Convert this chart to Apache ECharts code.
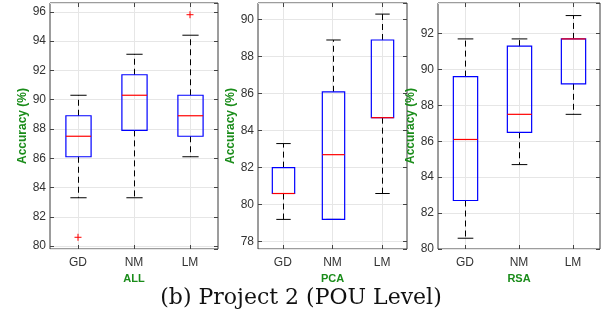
<!DOCTYPE html>
<html>
<head>
<meta charset="utf-8">
<script src="https://cdn.jsdelivr.net/npm/echarts@6/dist/echarts.min.js"></script>
<style>
  html, body { margin: 0; padding: 0; background: #fff; }
  #chart { width: 602px; height: 321px; }
</style>
</head>
<body>
<div id="chart"></div>
<script>
const categories = ["GD", "NM", "LM"];
const groupNames = ["ALL", "PCA", "RSA"];
// each box: [lower whisker, q1, median, q3, upper whisker]
const allBoxes = [
  [83.3, 86.1, 87.5, 88.9, 90.3],
  [83.3, 87.9, 90.3, 91.7, 93.1],
  [86.1, 87.5, 88.9, 90.3, 94.4],
];
const allOutliers = [[0, 80.6], [2, 95.8]];
const pcaBoxes = [
  [79.2, 80.6, 80.6, 82.0, 83.3],
  [79.2, 79.2, 82.7, 86.1, 88.9],
  [80.6, 84.7, 84.7, 88.9, 90.3],
];
const pcaOutliers = [];
const rsaBoxes = [
  [80.6, 82.7, 86.1, 89.6, 91.7],
  [84.7, 86.5, 87.5, 91.3, 91.7],
  [87.5, 89.2, 91.7, 91.7, 93.0],
];
const rsaOutliers = [];
const yMin = [79.8, 77.6, 80];
const yMax = [96.6, 90.9, 93.7];
const yStep = 2;

const grids = [
  { left: 50, top: 3, width: 168, height: 246 },
  { left: 258, top: 3, width: 149, height: 246 },
  { left: 438, top: 3, width: 162, height: 246 },
];
const nameGaps = [19, 20, 17];

const green = "#1a8c1a";
const labelColor = "#333";
const gridColor = "#e6e6e6";

function renderBox(params, api) {
  const idx = api.value(0);
  const band = api.size([1, 0])[0];
  const bw = band * 0.45;
  const cw = band * 0.29;
  const lo = api.coord([idx, api.value(1)]);
  const q1 = api.coord([idx, api.value(2)]);
  const md = api.coord([idx, api.value(3)]);
  const q3 = api.coord([idx, api.value(4)]);
  const hi = api.coord([idx, api.value(5)]);
  const x = Math.round(lo[0]) + 0.5;
  const dashed = { stroke: "#000", lineWidth: 1, lineDash: [6, 4] };
  const solid = { stroke: "#000", lineWidth: 1 };
  return {
    type: "group",
    children: [
      { type: "line", shape: { x1: x, y1: q3[1], x2: x, y2: hi[1] }, style: dashed },
      { type: "line", shape: { x1: x, y1: q1[1], x2: x, y2: lo[1] }, style: dashed },
      { type: "line", shape: { x1: x - cw / 2, y1: hi[1], x2: x + cw / 2, y2: hi[1] }, style: solid },
      { type: "line", shape: { x1: x - cw / 2, y1: lo[1], x2: x + cw / 2, y2: lo[1] }, style: solid },
      {
        type: "rect",
        shape: { x: x - bw / 2, y: q3[1], width: bw, height: q1[1] - q3[1] },
        style: { fill: "none", stroke: "#0000ff", lineWidth: 1.2 },
      },
      {
        type: "line",
        shape: { x1: x - bw / 2, y1: md[1], x2: x + bw / 2, y2: md[1] },
        style: { stroke: "#ff0000", lineWidth: 1.2 },
      },
    ],
  };
}

function renderPlus(params, api) {
  const c = api.coord([api.value(0), api.value(1)]);
  const s = 3.5;
  const st = { stroke: "#ff0000", lineWidth: 1 };
  return {
    type: "group",
    children: [
      { type: "line", shape: { x1: c[0] - s, y1: c[1], x2: c[0] + s, y2: c[1] }, style: st },
      { type: "line", shape: { x1: c[0], y1: c[1] - s, x2: c[0], y2: c[1] + s }, style: st },
    ],
  };
}

const boxSets = [allBoxes, pcaBoxes, rsaBoxes];
const outlierSets = [allOutliers, pcaOutliers, rsaOutliers];

const option = {
  backgroundColor: "#fff",
  animation: false,
  textStyle: { fontFamily: "Liberation Sans, Arial, sans-serif" },
  grid: grids.map((g) => ({
    ...g,
    show: true,
    borderColor: "#3a3a3a",
    borderWidth: 1,
    backgroundColor: "transparent",
  })),
  xAxis: [],
  yAxis: [],
  series: [],
  graphic: [
    {
      type: "text",
      left: "center",
      top: 287,
      style: {
        text: "(b) Project 2 (POU Level)",
        font: "22px 'DejaVu Serif', serif",
        fill: "#111",
      },
    },
  ],
};

grids.forEach((g, i) => {
  // bottom category axis
  option.xAxis.push({
    type: "category",
    gridIndex: i,
    data: categories,
    position: "bottom",
    axisLine: { show: false },
    axisTick: { show: true, inside: true, alignWithLabel: true, length: 4, lineStyle: { color: "#444" } },
    axisLabel: { color: labelColor, fontSize: 12, margin: 8 },
    splitLine: { show: true, alignWithLabel: true, lineStyle: { color: gridColor } },
    name: groupNames[i],
    nameLocation: "middle",
    nameGap: 14,
    nameTextStyle: { color: green, fontWeight: "bold", fontSize: 11 },
  });
  // top mirror axis for ticks
  option.xAxis.push({
    type: "category",
    gridIndex: i,
    data: categories,
    position: "top",
    axisLine: { show: false },
    axisTick: { show: true, inside: true, alignWithLabel: true, length: 4, lineStyle: { color: "#444" } },
    axisLabel: { show: false },
    splitLine: { show: false },
  });
  const yBase = {
    type: "value",
    gridIndex: i,
    min: yMin[i],
    max: yMax[i],
    minInterval: yStep,
    maxInterval: yStep,
    splitNumber: 8,
  };
  option.yAxis.push({
    ...yBase,
    position: "left",
    axisLine: { show: false },
    axisTick: { show: true, inside: true, length: 4, lineStyle: { color: "#444" } },
    axisLabel: {
      color: labelColor,
      fontSize: 12,
      margin: 4,
      showMinLabel: yMin[i] % yStep === 0,
      showMaxLabel: yMax[i] % yStep === 0,
    },
    splitLine: { show: true, lineStyle: { color: gridColor } },
    name: "Accuracy (%)",
    nameLocation: "middle",
    nameGap: nameGaps[i],
    nameTextStyle: { color: green, fontWeight: "bold", fontSize: 12 },
  });
  option.yAxis.push({
    ...yBase,
    position: "right",
    axisLine: { show: false },
    axisTick: { show: true, inside: true, length: 4, lineStyle: { color: "#444" } },
    axisLabel: { show: false },
    splitLine: { show: false },
  });
  option.series.push({
    type: "custom",
    xAxisIndex: i * 2,
    yAxisIndex: i * 2,
    renderItem: renderBox,
    encode: { x: 0, y: [1, 2, 3, 4, 5] },
    data: boxSets[i].map((b, k) => [k, ...b]),
    z: 5,
  });
  option.series.push({
    type: "custom",
    xAxisIndex: i * 2,
    yAxisIndex: i * 2,
    renderItem: renderPlus,
    encode: { x: 0, y: 1 },
    data: outlierSets[i],
    z: 6,
  });
});

const chart = echarts.init(document.getElementById("chart"));
chart.setOption(option);
</script>
</body>
</html>
